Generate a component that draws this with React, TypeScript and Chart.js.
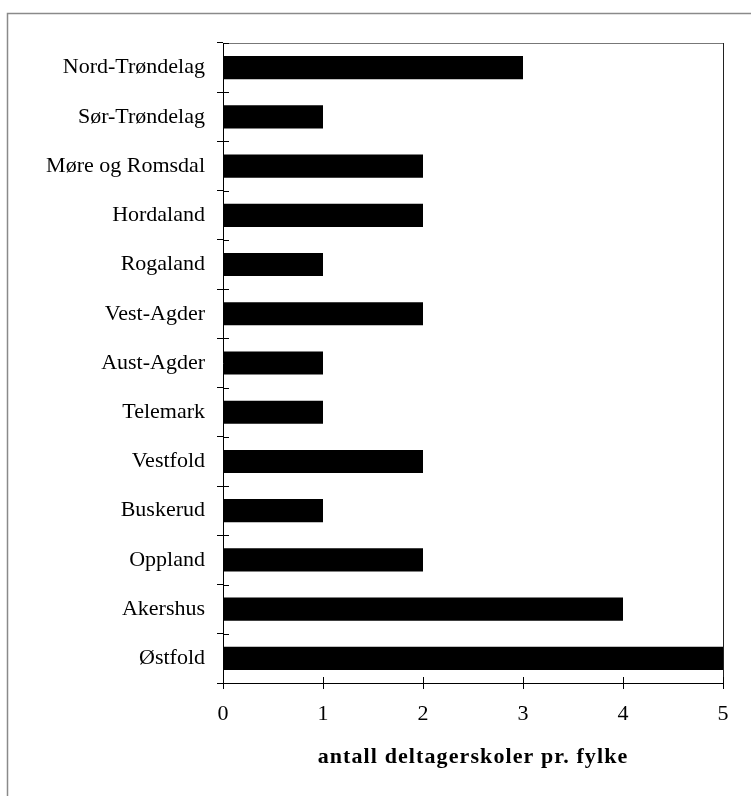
import React, { useEffect, useRef } from "react";
import { Chart, registerables } from "chart.js";

Chart.register(...registerables);

const categories = [
  "Nord-Trøndelag",
  "Sør-Trøndelag",
  "Møre og Romsdal",
  "Hordaland",
  "Rogaland",
  "Vest-Agder",
  "Aust-Agder",
  "Telemark",
  "Vestfold",
  "Buskerud",
  "Oppland",
  "Akershus",
  "Østfold",
];
const schoolCounts = [3, 1, 2, 2, 1, 2, 1, 1, 2, 1, 2, 4, 5];
const xMin = 0;
const xMax = 5;
const xTitle = "antall deltagerskoler pr. fylke";

const W = 751;
const H = 796;
const FONT = "'Liberation Serif', 'Times New Roman', serif";

const framePlugin = {
  id: "framePlugin",
  beforeDraw(chart: any) {
    const ctx = chart.ctx;
    ctx.save();
    ctx.strokeStyle = "#8a8a8a";
    ctx.lineWidth = 1.5;
    ctx.beginPath();
    ctx.moveTo(7.5, H);
    ctx.lineTo(7.5, 13.5);
    ctx.lineTo(W, 13.5);
    ctx.stroke();
    ctx.restore();
  },
  afterDraw(chart: any) {
    const ctx = chart.ctx;
    const a = chart.chartArea;
    const xs = chart.scales.x;
    const ys = chart.scales.y;
    ctx.save();
    // top and right plot border
    ctx.strokeStyle = "#777";
    ctx.lineWidth = 1;
    ctx.beginPath();
    ctx.moveTo(a.left, a.top + 0.5);
    ctx.lineTo(a.right + 0.5, a.top + 0.5);
    ctx.stroke();
    ctx.strokeStyle = "#222";
    ctx.beginPath();
    ctx.moveTo(a.right + 0.5, a.top);
    ctx.lineTo(a.right + 0.5, a.bottom);
    ctx.stroke();
    // inner halves of tick marks
    ctx.strokeStyle = "#000";
    ctx.beginPath();
    for (let v = xMin; v <= xMax; v++) {
      const px = Math.round(xs.getPixelForValue(v)) + 0.5;
      ctx.moveTo(px, a.bottom);
      ctx.lineTo(px, a.bottom - 6);
    }
    const step = ys.getPixelForTick(1) - ys.getPixelForTick(0);
    for (let i = 0; i <= categories.length; i++) {
      const py = Math.round(ys.getPixelForTick(0) - step / 2 + i * step) + 0.5;
      ctx.moveTo(a.left, py);
      ctx.lineTo(a.left + 6, py);
    }
    ctx.stroke();
    // axis title
    ctx.fillStyle = "#000";
    ctx.font = "bold 22px " + FONT;
    (ctx as any).letterSpacing = "1.1px";
    ctx.textAlign = "center";
    ctx.textBaseline = "alphabetic";
    ctx.fillText(xTitle, (a.left + a.right) / 2, 763);
    ctx.restore();
  },
};

export default function App() {
  const ref = useRef<HTMLCanvasElement | null>(null);
  useEffect(() => {
    if (!ref.current) return;
    const chart = new Chart(ref.current, {
      type: "bar",
      data: {
        labels: categories,
        datasets: [
          {
            data: schoolCounts,
            backgroundColor: "#000",
            borderWidth: 0,
            barPercentage: 0.47,
            categoryPercentage: 1,
          },
        ],
      },
      options: {
        indexAxis: "y",
        responsive: false,
        animation: false,
        devicePixelRatio: 1,
        layout: { padding: { top: 43, right: 28, left: 0, bottom: 0 } },
        plugins: {
          legend: { display: false },
          tooltip: { enabled: false },
          title: { display: false },
        },
        scales: {
          x: {
            type: "linear",
            min: xMin,
            max: xMax,
            ticks: {
              stepSize: 1,
              color: "#000",
              padding: 12,
              font: { family: FONT, size: 22 },
            },
            grid: {
              drawOnChartArea: false,
              drawTicks: true,
              tickLength: 6,
              color: "#000",
            },
            border: { display: true, color: "#000", width: 1 },
            afterFit(scale: any) {
              scale.height = 113;
            },
          },
          y: {
            type: "category",
            ticks: {
              color: "#000",
              padding: 12,
              font: { family: FONT, size: 22 },
            },
            grid: {
              offset: true,
              drawOnChartArea: false,
              drawTicks: true,
              tickLength: 6,
              color: "#000",
            },
            border: { display: true, color: "#000", width: 1 },
            afterFit(scale: any) {
              scale.width = 223;
            },
          },
        },
      },
      plugins: [framePlugin],
    });
    return () => chart.destroy();
  }, []);
  return (
    <div style={{ position: "fixed", left: 0, top: 0, width: W, height: H, background: "#fff" }}>
      <canvas ref={ref} width={W} height={H} style={{ display: "block", width: W, height: H }} />
    </div>
  );
}
